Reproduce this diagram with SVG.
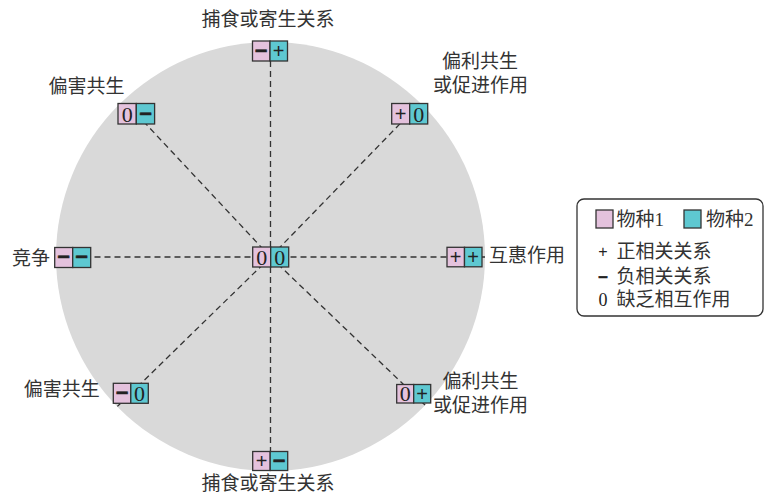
<svg xmlns="http://www.w3.org/2000/svg" width="765" height="494" viewBox="0 0 765 494">
<style>
.lbl{font-family:"Noto Sans CJK SC","Noto Sans",sans-serif;font-size:19px;fill:#333;text-anchor:middle}
.lgc{font-family:"Noto Sans CJK SC",sans-serif;font-size:19px;fill:#333}
.p{fill:#e4c2dd;stroke:#333;stroke-width:1.3}
.c{fill:#5ec8d1;stroke:#333;stroke-width:1.3}
.zero{font-family:"Liberation Serif",serif;font-size:22px;fill:#222;text-anchor:middle}
.plus{font-family:"Liberation Sans",sans-serif;font-size:20px;fill:#222;text-anchor:middle}
.minus{font-family:"Liberation Sans",sans-serif;font-size:22px;font-weight:bold;fill:#222;stroke:#222;stroke-width:0.6;text-anchor:middle}
.dash{stroke:#333;stroke-width:1.3;stroke-dasharray:6 4;fill:none}
</style>
<circle id="bg" cx="270.5" cy="256.5" r="214.5" fill="#d9d9d9"/>
<g id="connectors">
<line class="dash" x1="270.5" y1="257" x2="270.5" y2="51"/>
<line class="dash" x1="270.5" y1="257" x2="270.5" y2="461"/>
<line class="dash" x1="270.5" y1="257" x2="72.7" y2="257"/>
<line class="dash" x1="270.5" y1="257" x2="485" y2="257"/>
<line class="dash" x1="270.5" y1="257" x2="136.3" y2="113.7"/>
<line class="dash" x1="270.5" y1="257" x2="409.7" y2="113.8"/>
<line class="dash" x1="270.5" y1="257" x2="425" y2="405"/>
<line class="dash" x1="270.5" y1="257" x2="117.4" y2="406.4"/>
</g>
<g id="center">
<rect class="p" x="252.7" y="247" width="18" height="20"/>
<rect class="c" x="270.7" y="247" width="18" height="20"/>
<text class="zero" x="261.7" y="264.5">0</text>
<text class="zero" x="279.7" y="264.5">0</text>
</g>
<g id="top">
<text class="lbl" x="268" y="26">捕食或寄生关系</text>
<rect class="p" x="252.5" y="41" width="17.5" height="20"/>
<rect class="c" x="270" y="41" width="17.5" height="20"/>
<text class="minus" x="261.2" y="56.5">–</text>
<text class="plus" x="278.7" y="58">+</text>
</g>
<g id="bottom">
<text class="lbl" x="268" y="490">捕食或寄生关系</text>
<rect class="p" x="252.7" y="451.5" width="17.5" height="19"/>
<rect class="c" x="270.2" y="451.5" width="17.5" height="19"/>
<text class="plus" x="261.5" y="468">+</text>
<text class="minus" x="279" y="466.5">–</text>
</g>
<g id="left">
<text class="lbl" x="31" y="265">竞争</text>
<rect class="p" x="54.7" y="247.5" width="18" height="20"/>
<rect class="c" x="72.7" y="247.5" width="18" height="20"/>
<text class="minus" x="63.7" y="263">–</text>
<text class="minus" x="81.7" y="263">–</text>
</g>
<g id="right">
<text class="lbl" x="527" y="262">互惠作用</text>
<rect class="p" x="447" y="247.3" width="17.5" height="19.5"/>
<rect class="c" x="464.5" y="247.3" width="17.5" height="19.5"/>
<text class="plus" x="455.7" y="264">+</text>
<text class="plus" x="473.2" y="264">+</text>
</g>
<g id="upper-left">
<text class="lbl" x="86.5" y="93">偏害共生</text>
<rect class="p" x="118" y="103.5" width="18.3" height="20.5"/>
<rect class="c" x="136.3" y="103.5" width="18.3" height="20.5"/>
<text class="zero" x="127.2" y="121.5">0</text>
<text class="minus" x="145.5" y="119.5">–</text>
</g>
<g id="upper-right">
<text class="lbl" x="480" y="68">偏利共生</text>
<text class="lbl" x="480.5" y="92">或促进作用</text>
<rect class="p" x="391.7" y="103.5" width="18" height="20.5"/>
<rect class="c" x="409.7" y="103.5" width="18" height="20.5"/>
<text class="plus" x="400.7" y="121">+</text>
<text class="zero" x="418.7" y="121.5">0</text>
</g>
<g id="lower-right">
<text class="lbl" x="480.5" y="388">偏利共生</text>
<text class="lbl" x="480.5" y="412">或促进作用</text>
<rect class="p" x="396.7" y="384.5" width="17" height="18.5"/>
<rect class="c" x="413.7" y="384.5" width="17" height="18.5"/>
<text class="zero" x="405.2" y="401">0</text>
<text class="plus" x="422.2" y="400.7">+</text>
</g>
<g id="lower-left">
<text class="lbl" x="61.7" y="396">偏害共生</text>
<rect class="p" x="113.3" y="383.3" width="17.5" height="20"/>
<rect class="c" x="130.8" y="383.3" width="17.5" height="20"/>
<text class="minus" x="122" y="398.8">–</text>
<text class="zero" x="139.5" y="400.8">0</text>
</g>
<g id="legend">
<rect x="577" y="199" width="186" height="117" rx="7" fill="#fff" stroke="#333" stroke-width="1.3"/>
<rect class="p" x="596" y="210" width="17" height="18"/>
<text class="lgc" x="616.5" y="226">物种<tspan font-family="Liberation Serif">1</tspan></text>
<rect class="c" x="684" y="210" width="17" height="18"/>
<text class="lgc" x="706" y="226">物种<tspan font-family="Liberation Serif">2</tspan></text>
<text x="603" y="256.5" font-family="Liberation Sans" font-size="16" fill="#222" text-anchor="middle">+</text>
<text class="lgc" x="616.5" y="257.5">正相关关系</text>
<text x="603" y="282" font-family="Liberation Sans" font-size="17" font-weight="bold" stroke="#222" stroke-width="0.5" fill="#222" text-anchor="middle">–</text>
<text class="lgc" x="616.5" y="283">负相关关系</text>
<text x="603" y="305.5" font-family="Liberation Serif" font-size="18" fill="#222" text-anchor="middle">0</text>
<text class="lgc" x="616.5" y="305.5">缺乏相互作用</text>
</g>
</svg>
